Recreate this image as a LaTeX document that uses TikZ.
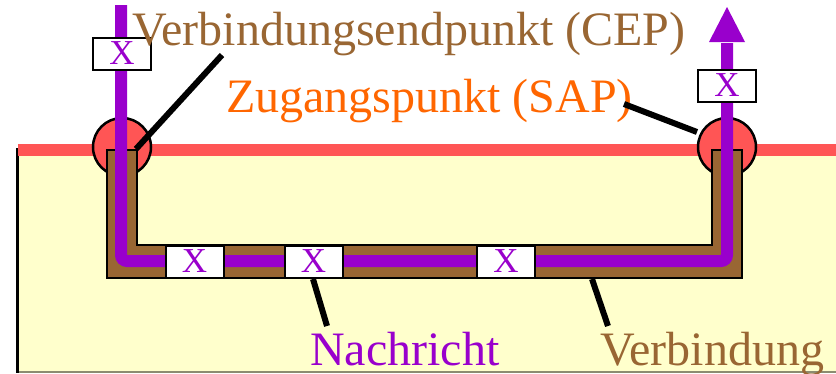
\documentclass[tikz,border=0pt]{standalone}
\usepackage{fontspec}
\setmainfont{Liberation Serif}
\definecolor{cbrown}{HTML}{996633}
\definecolor{cpurple}{HTML}{9900CC}
\definecolor{corange}{HTML}{FF6600}
\definecolor{cred}{HTML}{FF5555}
\definecolor{cyellow}{HTML}{FFFFCC}
\tikzset{
  xbox/.style={draw=black, line width=2pt, fill=white, minimum width=58pt, minimum height=32pt, inner sep=0pt, text=cpurple, font=\fontsize{35}{38}\selectfont},
  sapcirc/.style={circle, draw=black, line width=2.5pt, fill=cred, minimum size=58pt, inner sep=0pt},
  leader/.style={line width=6pt, black},
  lbl/.style={anchor=base west, inner sep=0pt, font=\fontsize{48}{54}\selectfont},
  msgline/.style={line width=12pt, cpurple, rounded corners=6pt}
}
\begin{document}
\begin{tikzpicture}[x=1pt,y=-1pt]
\useasboundingbox (0,0) rectangle (836,373);
% background area
\fill[cyellow] (18,150) rectangle (836,373);
\draw[line width=1.5pt, color=black!45!cyellow] (18,372.2) -- (836,372.2);
\draw[line width=3pt, black] (17.5,148) -- (17.5,373);
\fill[cred] (18,144) rectangle (836,156);
% access points
\node[sapcirc] (sapL) at (122,147) {};
\node[sapcirc] (sapR) at (727,147) {};
% connection channel
\draw[line width=2.5pt, fill=cbrown, line join=miter]
  (107,150) -- (107,278) -- (742,278) -- (742,150) -- (712,150) -- (712,245) -- (137,245) -- (137,150) -- cycle;
% message path
\coordinate (mstart) at (121,5);
\coordinate (mc1) at (121,261);
\coordinate (mc2) at (727,261);
\coordinate (mend) at (727,43);
\draw[msgline] (mstart) -- (mc1) -- (mc2) -- (mend);
\coordinate (tipA) at (709,42);
\coordinate (tipB) at (745,42);
\coordinate (tip) at (727,7);
\fill[cpurple] (tipA) -- (tip) -- (tipB) -- cycle;
% message boxes
\node[xbox] (x1) at (122,53.5) {X};
\node[xbox] (x2) at (727,85.5) {X};
\node[xbox] (x3) at (194.5,261.5) {X};
\node[xbox] (x4) at (313.5,261.5) {X};
\node[xbox] (x5) at (506,261.5) {X};
% labels
\node[lbl, text=cbrown] (cep) at (132,45) {Verbindungsendpunkt (CEP)};
\node[lbl, text=corange] (sap) at (226,112) {Zugangspunkt (SAP)};
\node[lbl, text=cpurple] (nach) at (310,365) {Nachricht};
\node[lbl, text=cbrown] (verb) at (600,365) {Verbindung};
% leaders
\coordinate (c1a) at (222,55);
\coordinate (c1b) at (136,149);
\coordinate (c2a) at (624,104);
\coordinate (c2b) at (697,132);
\coordinate (c3a) at (313,279);
\coordinate (c3b) at (327,326);
\coordinate (c4a) at (592,279);
\coordinate (c4b) at (608,326);
\draw[leader] (c1a) -- (c1b);
\draw[leader] (c2a) -- (c2b);
\draw[leader] (c3a) -- (c3b);
\draw[leader] (c4a) -- (c4b);
\end{tikzpicture}
\end{document}
